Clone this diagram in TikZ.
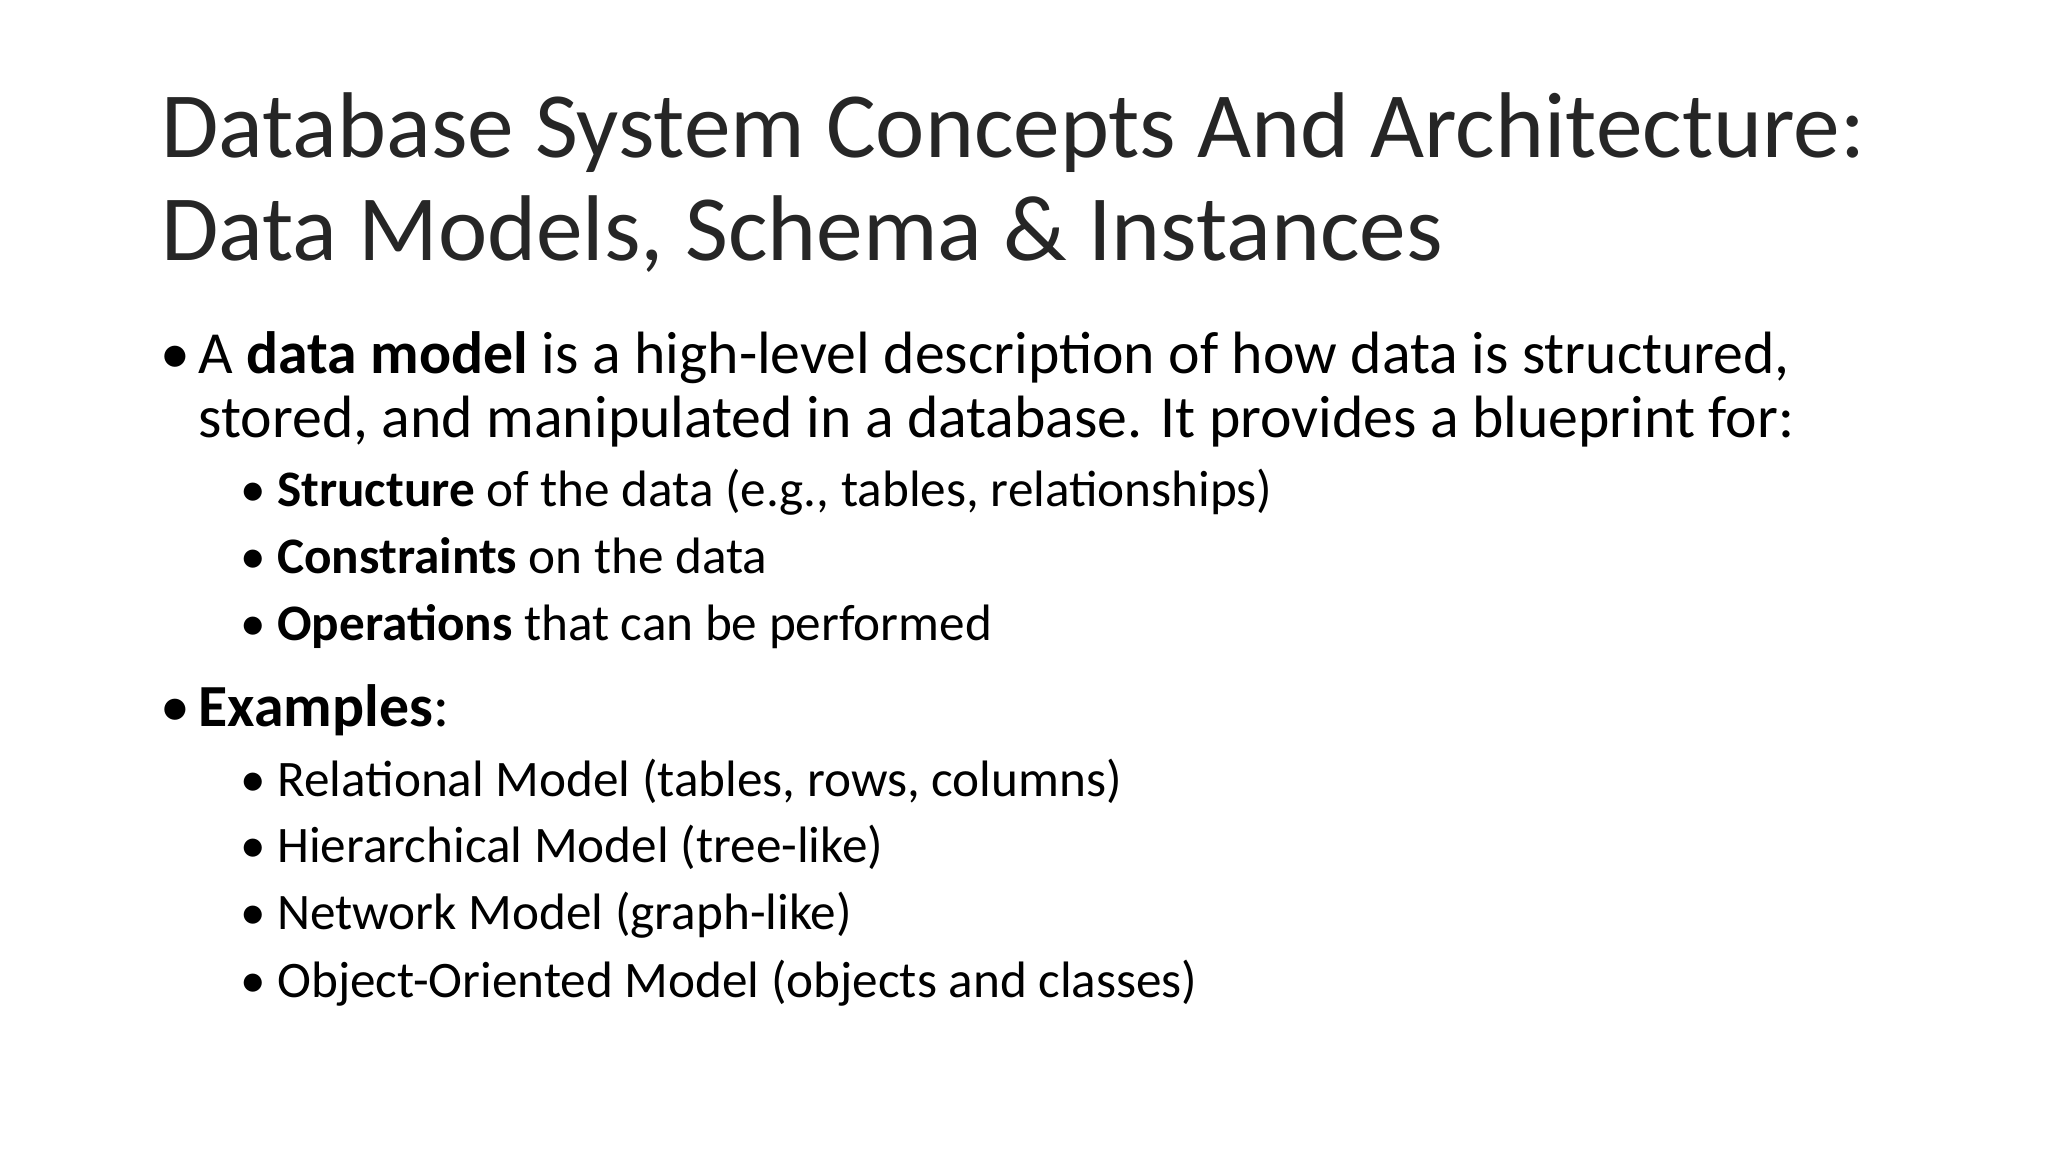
\documentclass[tikz,border=0pt]{standalone}
\usepackage{fontspec}
\setmainfont{Carlito}
\begin{document}
\begin{tikzpicture}[x=1pt,y=-1pt,
  t/.style={anchor=base west,inner sep=0pt,outer sep=0pt},
  ttl/.style={t,font=\fontsize{70}{77}\selectfont,text=black!85},
  l1/.style={t,font=\fontsize{44.8}{48}\selectfont},
  l2/.style={t,font=\fontsize{38.4}{44}\selectfont}]
\useasboundingbox (0,0) rectangle (1536,864);
\node[ttl] (t1) at (121,118) {Database System Concepts And Architecture:};
\node[ttl] (t2) at (121,195) {Data Models, Schema \& Instances};
\node[l1] (b1) at (120,280) {•};
\node[l1] (a1) at (149,280) {A \textbf{data model} is a high-level description of how data is structured,};
\node[l1] (a2) at (149,328) {stored, and manipulated in a database. It provides a blueprint for:};
\node[l2] (s1b) at (180,380) {•};
\node[l2] (s1) at (208,380) {\textbf{Structure} of the data (e.g., tables, relationships)};
\node[l2] (s2b) at (180,430) {•};
\node[l2] (s2) at (208,430) {\textbf{Constraints} on the data};
\node[l2] (s3b) at (180,480) {•};
\node[l2] (s3) at (208,480) {\textbf{Operations} that can be performed};
\node[l1] (b2) at (120,545) {•};
\node[l1] (ex) at (149,545) {\textbf{Examples}:};
\node[l2] (e1b) at (180,597) {•};
\node[l2] (e1) at (208,597) {Relational Model (tables, rows, columns)};
\node[l2] (e2b) at (180,647) {•};
\node[l2] (e2) at (208,647) {Hierarchical Model (tree-like)};
\node[l2] (e3b) at (180,697) {•};
\node[l2] (e3) at (208,697) {Network Model (graph-like)};
\node[l2] (e4b) at (180,748) {•};
\node[l2] (e4) at (208,748) {Object-Oriented Model (objects and classes)};
\end{tikzpicture}
\end{document}
